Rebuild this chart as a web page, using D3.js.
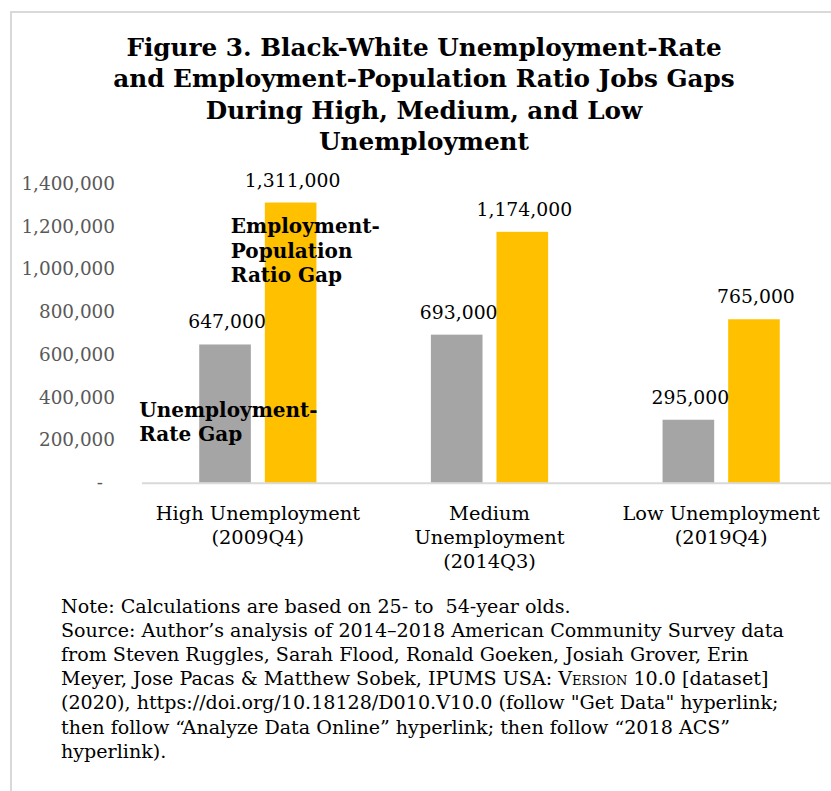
<!DOCTYPE html>
<meta charset="utf-8">
<script src="https://d3js.org/d3.v7.min.js"></script>
<style>
  body { margin: 0; background: #fff; }
  text { font-family: "DejaVu Serif", serif; }
</style>
<div id="chart"></div>
<script>

// data
var categories = ["High", "Medium", "Low"];
var categoryLines = [
  ["High Unemployment", "(2009Q4)"],
  ["Medium", "Unemployment", "(2014Q3)"],
  ["Low Unemployment", "(2019Q4)"]
];
var series = ["Unemployment-Rate Gap", "Employment-Population Ratio Gap"];
var unemploymentRateGap = [647000, 693000, 295000];
var empPopRatioGap = [1311000, 1174000, 765000];
var yTicks = [0, 200000, 400000, 600000, 800000, 1000000, 1200000, 1400000];
var colors = ["#a5a5a5", "#ffc000"];

var titleLines = [
  "Figure 3. Black-White Unemployment-Rate",
  "and Employment-Population Ratio Jobs Gaps",
  "During High, Medium, and Low",
  "Unemployment"
];
var noteLines = [
  "Note: Calculations are based on 25- to  54-year olds.",
  "Source: Author\u2019s analysis of 2014\u20132018 American Community Survey data",
  "from Steven Ruggles, Sarah Flood, Ronald Goeken, Josiah Grover, Erin",
  "Meyer, Jose Pacas & Matthew Sobek, IPUMS USA: |Version| 10.0 [dataset]",
  "(2020), https://doi.org/10.18128/D010.V10.0 (follow \"Get Data\" hyperlink;",
  "then follow \u201cAnalyze Data Online\u201d hyperlink; then follow \u201c2018 ACS\u201d",
  "hyperlink)."
];

var width = 831, height = 791;

var svg = d3.select("#chart")
  .append("svg")
    .attr("width", width)
    .attr("height", height);

// outer frame (only left and top edges fall inside the picture)
svg.append("path")
  .attr("d", "M11,791 V12 H831")
  .attr("fill", "none")
  .attr("stroke", "#d9d9d9")
  .attr("stroke-width", 2);

// title
svg.append("g").selectAll("text")
  .data(titleLines)
  .enter()
  .append("text")
    .attr("x", 424)
    .attr("y", function(d, i) { return 56 + i * 31.3; })
    .attr("text-anchor", "middle")
    .style("font-size", "24.7px")
    .style("font-weight", "bold")
    .attr("fill", "#000")
    .text(function(d) { return d; });

// scales
var x0 = d3.scaleBand()
  .domain(categories)
  .range([142, 837])
  .paddingInner(0.494)
  .paddingOuter(0.247);

var x1 = d3.scaleBand()
  .domain(series)
  .range([0, x0.bandwidth()])
  .paddingInner(0.213);

var y = d3.scaleLinear()
  .domain([0, 1400000])
  .range([482.8, 183.5]);

// y axis (labels only)
var yAxis = svg.append("g")
  .attr("transform", "translate(142,0)")
  .call(d3.axisLeft(y)
    .tickValues(yTicks)
    .tickSize(0)
    .tickPadding(27)
    .tickFormat(function(d) { return d === 0 ? "-" : d3.format(",")(d); }));
yAxis.select(".domain").remove();
yAxis.selectAll("text")
  .attr("fill", "#595959")
  .style("font-family", "'DejaVu Serif', serif")
  .style("font-size", "18.4px")
  .attr("dx", function(d) { return d === 0 ? "-12px" : 0; });

// bars
var rows = categories.map(function(c, i) {
  return { cat: c, values: [unemploymentRateGap[i], empPopRatioGap[i]] };
});

var groups = svg.append("g").selectAll("g")
  .data(rows)
  .enter()
  .append("g")
    .attr("transform", function(d) { return "translate(" + x0(d.cat) + ",0)"; });

groups.selectAll("rect")
  .data(function(d) { return d.values.map(function(v, j) { return { s: series[j], v: v, j: j }; }); })
  .enter()
  .append("rect")
    .attr("x", function(d) { return x1(d.s); })
    .attr("width", x1.bandwidth())
    .attr("y", function(d) { return y(d.v); })
    .attr("height", function(d) { return y(0) - y(d.v); })
    .attr("fill", function(d) { return colors[d.j]; });

// value labels
groups.selectAll("text.val")
  .data(function(d) { return d.values.map(function(v, j) { return { s: series[j], v: v }; }); })
  .enter()
  .append("text")
    .attr("class", "val")
    .attr("x", function(d) { return x1(d.s) + x1.bandwidth() / 2 + 2; })
    .attr("y", function(d) { return y(d.v) - 16; })
    .attr("text-anchor", "middle")
    .style("font-size", "18.8px")
    .attr("fill", "#000")
    .text(function(d) { return d3.format(",")(d.v); });

// x axis line
svg.append("line")
  .attr("x1", x0.range()[0])
  .attr("x2", x0.range()[1])
  .attr("y1", y(0) + 0.5)
  .attr("y2", y(0) + 0.5)
  .attr("stroke", "#d9d9d9")
  .attr("stroke-width", 2);

// category labels
var catLabels = svg.append("g").selectAll("text")
  .data(categories)
  .enter()
  .append("text")
    .attr("x", function(d) { return x0(d) + x0.bandwidth() / 2; })
    .attr("y", 520)
    .attr("text-anchor", "middle")
    .style("font-size", "19.4px")
    .attr("fill", "#000");
catLabels.selectAll("tspan")
  .data(function(d, i) { return categoryLines[i]; })
  .enter()
  .append("tspan")
    .attr("x", function() { return d3.select(this.parentNode).attr("x"); })
    .attr("dy", function(d, i) { return i === 0 ? 0 : 24; })
    .text(function(d) { return d; });

// series annotations
var firstCat = categories[0];
var annot = [
  { lines: ["Employment-", "Population", "Ratio Gap"],
    x: x0(firstCat) + x1(series[1]) - 34, y: y(1168000) },
  { lines: ["Unemployment-", "Rate Gap"],
    x: x0(firstCat) + x1(series[0]) - 60, y: y(310000) }
];
svg.append("g").selectAll("text")
  .data(annot)
  .enter()
  .append("text")
    .attr("x", function(d) { return d.x; })
    .attr("y", function(d) { return d.y; })
    .style("font-size", "20px")
    .style("font-weight", "bold")
    .attr("fill", "#000")
  .selectAll("tspan")
  .data(function(d) { return d.lines.map(function(l) { return { l: l, x: d.x }; }); })
  .enter()
  .append("tspan")
    .attr("x", function(d) { return d.x; })
    .attr("dy", function(d, i) { return i === 0 ? 0 : 24.5; })
    .text(function(d) { return d.l; });

// notes
var notes = svg.append("g").selectAll("text")
  .data(noteLines)
  .enter()
  .append("text")
    .attr("x", 61)
    .attr("y", function(d, i) { return 613 + i * 24.1; })
    .style("font-size", "19.1px")
    .style("white-space", "pre")
    .attr("fill", "#000");
notes.selectAll("tspan")
  .data(function(d) { return d.split("|"); })
  .enter()
  .append("tspan")
    .style("font-variant", function(d, i) { return i === 1 ? "small-caps" : null; })
    .text(function(d) { return d; });

</script>
